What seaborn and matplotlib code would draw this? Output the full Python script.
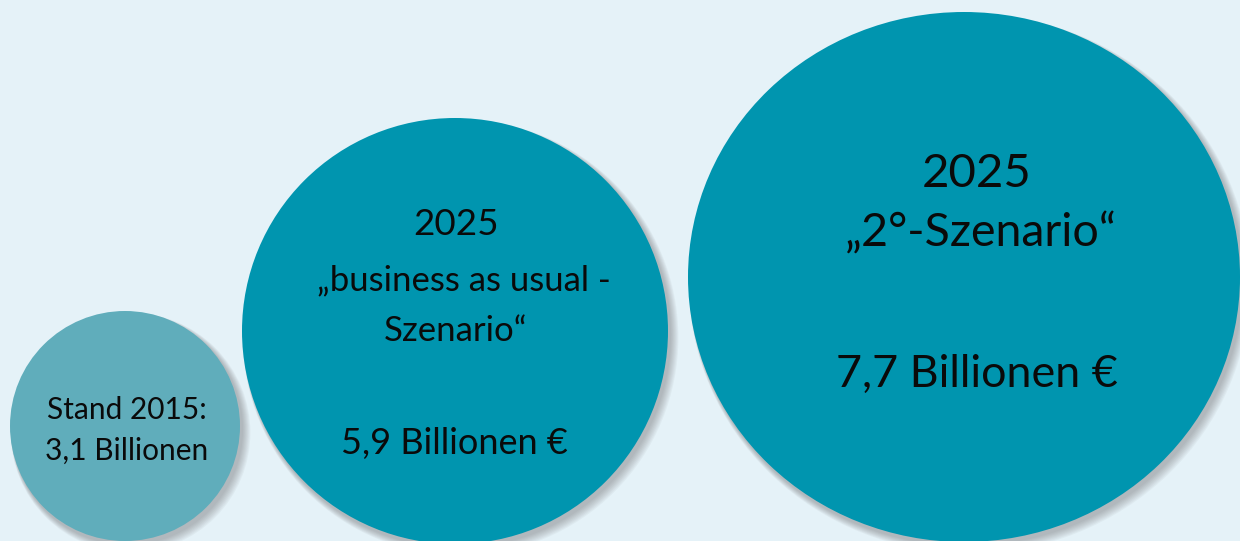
import matplotlib
matplotlib.use("Agg")
import matplotlib.pyplot as plt
from matplotlib.patches import Ellipse
import seaborn as sns

# ---- data ----
categories = ["Stand 2015", "2025 business as usual", "2025 2°-Szenario"]
values_billion_eur = [3.1, 5.9, 7.7]
label_lines = [
    ["Stand 2015:", "3,1 Billionen"],
    ["2025", "\u201ebusiness as usual -", "Szenario\u201c", "5,9 Billionen \u20ac"],
    ["2025", "\u201e2°-Szenario\u201c", "7,7 Billionen \u20ac"],
]

# ---- layout / style (pixel coords, y downward) ----
centers = [(125, 426), (455, 331), (964, 277)]
sizes = [(230, 230), (426, 426), (552, 530)]
fills = ["#60adbb", "#0095af", "#0095af"]
line_baselines = [
    [419, 460],
    [235, 290, 341, 454],
    [187, 247, 387],
]
line_x = [[127, 127], [456, 464, 456, 454], [977, 981, 977]]
line_sizes = [[21.5, 21.5], [26.5, 25, 25, 26], [34, 33.5, 32.3]]

sns.set_theme(style="white")
plt.rcParams["font.family"] = ["Lato", "DejaVu Sans"]

W, H = 1240, 541
fig = plt.figure(figsize=(W / 100, H / 100), dpi=100)
bg = "#e5f2f8"
fig.patch.set_facecolor(bg)
ax = fig.add_axes([0, 0, 1, 1])
ax.set_facecolor(bg)
ax.set_xlim(0, W)
ax.set_ylim(H, 0)
ax.axis("off")

for (cx, cy), (w, h), col in zip(centers, sizes, fills):
    # soft shadow toward lower right
    for k in range(8, 0, -1):
        ax.add_patch(Ellipse((cx + 2 + k * 0.45, cy + 3 + k * 0.45), w + k * 1.2, h + k * 1.2,
                             facecolor="#555555", edgecolor="none", alpha=0.05, zorder=1))
    ax.add_patch(Ellipse((cx, cy), w, h, facecolor=col, edgecolor="none", zorder=2))

for lines, ys, xs, fs in zip(label_lines, line_baselines, line_x, line_sizes):
    for txt, y, x, s in zip(lines, ys, xs, fs):
        ax.text(x, y, txt, ha="center", va="baseline", fontsize=s, color="#0a0a0a", zorder=3)

fig.savefig("out.png", dpi=100, facecolor=bg)
